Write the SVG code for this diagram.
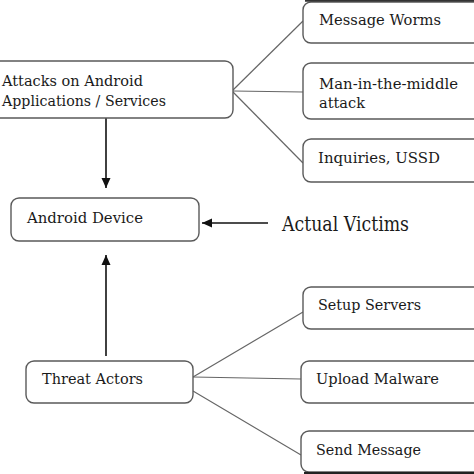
<svg xmlns="http://www.w3.org/2000/svg" width="474" height="474" viewBox="0 0 474 474">
<style>
.box{fill:#fff;stroke:#5a5a5a;stroke-width:1.4}
.t{font-family:"DejaVu Serif","Liberation Serif",serif;font-size:15.5px;fill:#1a1a1a}
.big{font-size:19.5px}
.ln{stroke:#666;stroke-width:1.2;fill:none}
.ar{stroke:#111;stroke-width:1.6;fill:none}
</style>
<defs>
<marker id="ah" viewBox="0 0 10 10" refX="10" refY="5" markerWidth="10" markerHeight="10" markerUnits="userSpaceOnUse" orient="auto">
<path d="M0,0.5 L10,5 L0,9.5 Z" fill="#111"/>
</marker>
</defs>
<rect width="474" height="474" fill="#fff"/>
<g id="connectors">
<line class="ln" x1="233" y1="90" x2="303" y2="21"/>
<line class="ln" x1="233" y1="91" x2="303" y2="92"/>
<line class="ln" x1="233" y1="92" x2="303" y2="163"/>
<line class="ln" x1="193" y1="377" x2="303" y2="312"/>
<line class="ln" x1="193" y1="377" x2="301" y2="379"/>
<line class="ln" x1="193" y1="391" x2="301" y2="455"/>
<line class="ar" x1="106" y1="118" x2="106" y2="188" marker-end="url(#ah)"/>
<line class="ar" x1="106" y1="356" x2="106" y2="255" marker-end="url(#ah)"/>
<line class="ar" x1="268" y1="223" x2="202" y2="223" marker-end="url(#ah)"/>
</g>
<g id="attacks">
<rect class="box" x="-8" y="61" width="241" height="57" rx="8"/>
<text class="t" x="2" y="86" textLength="141" lengthAdjust="spacingAndGlyphs">Attacks on Android</text>
<text class="t" x="2" y="106" textLength="164" lengthAdjust="spacingAndGlyphs">Applications / Services</text>
</g>
<g id="message-worms">
<rect class="box" x="303" y="2" width="180" height="41" rx="8"/>
<line x1="305" y1="0.8" x2="474" y2="0.8" stroke="#333" stroke-width="2"/>
<text class="t" x="319" y="25" textLength="122" lengthAdjust="spacingAndGlyphs">Message Worms</text>
</g>
<g id="mitm">
<rect class="box" x="303" y="63" width="180" height="56" rx="8"/>
<text class="t" x="319" y="89" textLength="139" lengthAdjust="spacingAndGlyphs">Man-in-the-middle</text>
<text class="t" x="319" y="108" textLength="46" lengthAdjust="spacingAndGlyphs">attack</text>
</g>
<g id="inquiries">
<rect class="box" x="303" y="139" width="180" height="43" rx="8"/>
<text class="t" x="318" y="163" textLength="122" lengthAdjust="spacingAndGlyphs">Inquiries, USSD</text>
</g>
<g id="android-device">
<rect class="box" x="11" y="198" width="188" height="43" rx="8"/>
<text class="t" x="27" y="223" textLength="116" lengthAdjust="spacingAndGlyphs">Android Device</text>
</g>
<g id="actual-victims">
<text class="t big" x="282" y="231" textLength="127" lengthAdjust="spacingAndGlyphs">Actual Victims</text>
</g>
<g id="threat-actors">
<rect class="box" x="26" y="361" width="167" height="42" rx="8"/>
<text class="t" x="42" y="384" textLength="101" lengthAdjust="spacingAndGlyphs">Threat Actors</text>
</g>
<g id="setup-servers">
<rect class="box" x="303" y="287" width="180" height="42" rx="8"/>
<text class="t" x="318" y="310" textLength="103" lengthAdjust="spacingAndGlyphs">Setup Servers</text>
</g>
<g id="upload-malware">
<rect class="box" x="301" y="361" width="182" height="42" rx="8"/>
<text class="t" x="316" y="384" textLength="123" lengthAdjust="spacingAndGlyphs">Upload Malware</text>
</g>
<g id="send-message">
<rect class="box" x="301" y="431" width="182" height="41" rx="8"/>
<line x1="304" y1="473" x2="474" y2="473" stroke="#222" stroke-width="2.2"/>
<text class="t" x="316" y="455" textLength="105" lengthAdjust="spacingAndGlyphs">Send Message</text>
</g>
</svg>
